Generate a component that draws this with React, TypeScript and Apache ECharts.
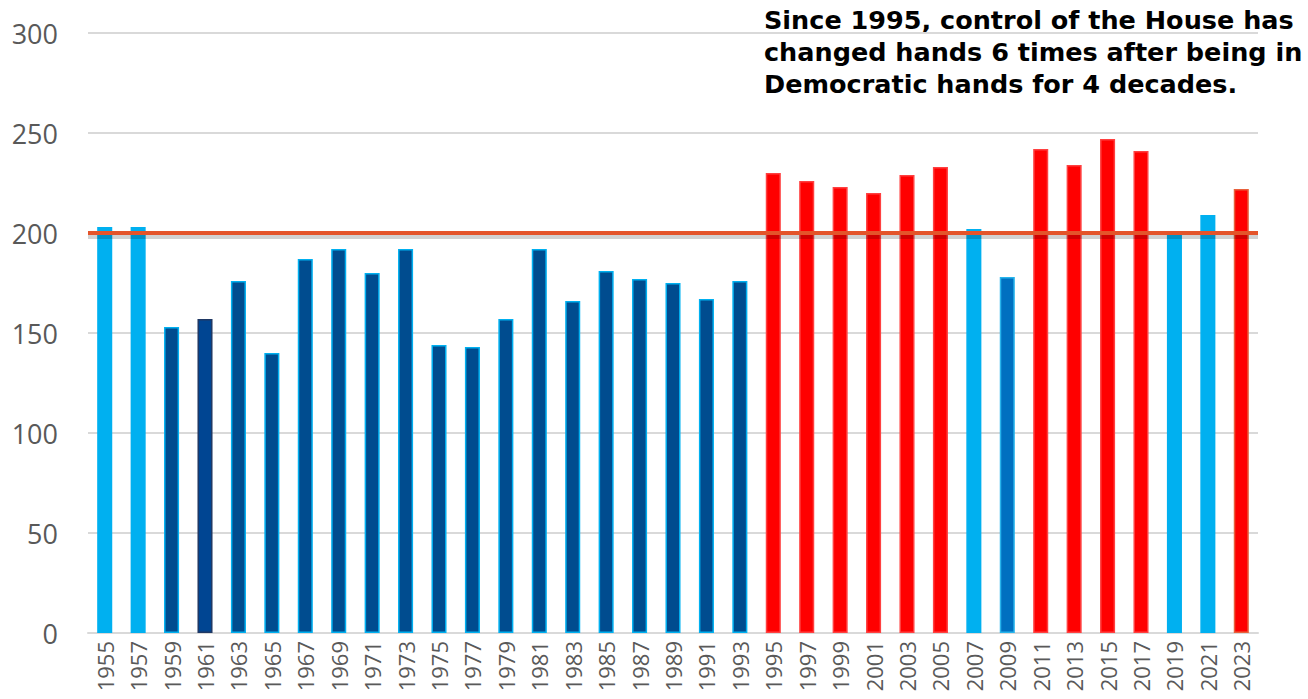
import React, { useEffect, useRef } from "react";
import * as echarts from "echarts";

const years = ["1955","1957","1959","1961","1963","1965","1967","1969","1971","1973","1975","1977","1979","1981","1983","1985","1987","1989","1991","1993","1995","1997","1999","2001","2003","2005","2007","2009","2011","2013","2015","2017","2019","2021","2023"];
const seats = [203,203,153,157,176,140,187,192,180,192,144,143,157,192,166,181,177,175,167,176,230,226,223,220,229,233,202,178,242,234,247,241,200,209,222];
const kinds = ["lb","lb","db","nv","db","db","db","db","db","db","db","db","db","db","db","db","db","db","db","db","r","r","r","r","r","r","lb","mb","r","r","r","r","lb","lb","ro"];
const yTicks = [0, 50, 100, 150, 200, 250, 300];
const referenceLevel = 200;
const note = ["Since 1995, control of the House has", "changed hands 6 times after being in", "Democratic hands for 4 decades."];

const styles: Record<string, { color: string; borderColor: string }> = {
  lb: { color: "#00b0f0", borderColor: "#00b0f0" },
  db: { color: "#004c8f", borderColor: "#00b0f0" },
  nv: { color: "#004592", borderColor: "#1f3864" },
  mb: { color: "#0070c0", borderColor: "#27b4ec" },
  r: { color: "#ff0000", borderColor: "#ff4040" },
  ro: { color: "#ff0000", borderColor: "#e8603c" },
};

export default function App() {
  const ref = useRef<HTMLDivElement>(null);
  useEffect(() => {
    const chart = echarts.init(ref.current!, null, { renderer: "svg" });
    chart.setOption({
      animation: false,
      grid: { left: 88, right: 50, top: 33, bottom: 66 },
      xAxis: {
        type: "category",
        data: years,
        axisLine: { lineStyle: { color: "#d9d9d9", width: 2 } },
        axisTick: { show: false },
        axisLabel: { rotate: 90, fontSize: 22, color: "#595959", fontFamily: "Open Sans", margin: 8, interval: 0 },
      },
      yAxis: {
        type: "value",
        min: 0,
        max: yTicks[yTicks.length - 1],
        interval: 50,
        axisLine: { show: false },
        axisTick: { show: false },
        splitLine: { lineStyle: { color: "#d9d9d9", width: 2 } },
        axisLabel: { fontSize: 27, color: "#595959", fontFamily: "Open Sans", margin: 30 },
      },
      series: [
        {
          type: "bar",
          barWidth: "45%",
          data: seats.map((v, i) => ({
            value: v,
            itemStyle: { color: styles[kinds[i]].color, borderColor: styles[kinds[i]].borderColor, borderWidth: 1.5 },
          })),
          markLine: {
            silent: true,
            symbol: "none",
            label: { show: false },
            data: [
              { yAxis: referenceLevel - 1.6, lineStyle: { color: "rgba(0,0,0,0.18)", width: 5 } },
              { yAxis: referenceLevel, lineStyle: { color: "#e4542a", width: 4 } },
            ],
            lineStyle: { type: "solid" },
          },
        },
      ],
      graphic: note.map((t, i) => ({
        type: "text",
        left: 764,
        top: 7 + i * 32,
        style: {
          text: t,
          fontSize: 25.5,
          fontWeight: 900,
          fontFamily: "DejaVu Sans",
          fill: "#000",
        },
      })),
    });
    return () => chart.dispose();
  }, []);
  return <div ref={ref} style={{ position: "absolute", left: 0, top: 0, width: 1308, height: 699 }} />;
}
